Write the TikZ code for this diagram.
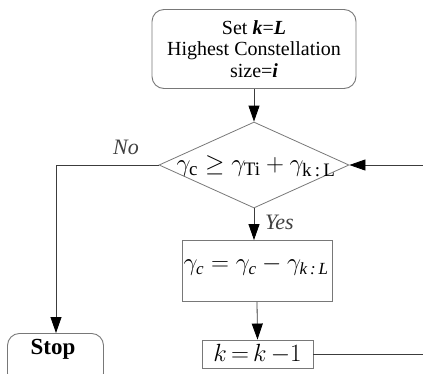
\documentclass[tikz,border=0pt]{standalone}
\usepackage{fontspec}
\setmainfont{Liberation Serif}
\usetikzlibrary{shapes.geometric,arrows.meta}
\definecolor{edgegray}{RGB}{120,120,120}
\definecolor{linegray}{RGB}{60,60,60}
\newcommand{\dsub}[1]{\hbox{\fontsize{19}{19}\selectfont #1}}
\newcommand{\bsub}[1]{\hbox{\fontsize{17}{17}\selectfont\itshape #1}}
\tikzset{
  rbox/.style={draw=edgegray, line width=0.9pt, rounded corners=12pt, inner sep=0pt},
  sbox/.style={draw=edgegray, line width=0.9pt, inner sep=0pt},
  dia/.style={draw=edgegray, line width=0.8pt, diamond, inner sep=0pt},
  arr/.style={draw=linegray, line width=0.8pt, -{Triangle[length=16pt,width=11pt,fill=black,color=black]}},
  ln/.style={draw=linegray, line width=0.8pt},
  lbl/.style={font=\fontsize{22}{24}\selectfont\itshape, inner sep=0pt, text=black!75}
}
\begin{document}
\begin{tikzpicture}[x=1pt,y=-1pt]
\useasboundingbox (0,0) rectangle (423,373);
\node[rbox, minimum width=204pt, minimum height=79pt, align=center,
      font=\fontsize{20}{21.5}\selectfont] (top) at (254,49)
  {Set \textbf{\textit{k}}=\textbf{\textit{L}}\\Highest Constellation\\size=\textbf{\textit{i}}};
\node[dia, minimum width=190pt, minimum height=86pt] (d) at (254,165) {};
\node[inner sep=0pt, font=\fontsize{26}{28}\selectfont] (dt) at (256,166)
  {$\gamma_{\dsub{c}} \geq \gamma_{\dsub{Ti}} + \gamma_{\dsub{k\,:\,L}}$};
\node[sbox, minimum width=150pt, minimum height=61pt] (b2) at (257,271) {};
\node[inner sep=0pt, font=\fontsize{25}{27}\selectfont] (b2t) at (256,266)
  {$\gamma_{\bsub{c}} = \gamma_{\bsub{c}} - \gamma_{\bsub{k\,:\,L}}$};
\node[sbox, minimum width=111pt, minimum height=28pt, font=\fontsize{24}{25}\selectfont] (b3) at (257.5,354)
  {$k\,{=}\,k\,{-}1$};
\node[rbox, minimum width=96pt, minimum height=52pt, anchor=north] (stop) at (55.5,333) {};
\node[inner sep=0pt, font=\fontsize{23}{24}\selectfont\bfseries] (stopt) at (53,349) {Stop};
\coordinate (bend) at (56,165);
\coordinate (rin) at (423,165);
\coordinate (rout) at (423,354);
\draw[arr] (top.south -| d.north) -- (d.north);
\draw[arr] (rin) -- (d.east);
\draw[arr] (d.west) -- (bend) -- (stop.north -| bend);
\draw[arr] (d.south) -- (b2.north -| d.south);
\draw[arr] (b2.south) -- (b3.north);
\draw[ln] (b3.east) -- (rout);
\node[lbl] (no) at (126,147) {No};
\node[lbl, anchor=west] (yes) at (265,222) {Yes};
\end{tikzpicture}
\end{document}
